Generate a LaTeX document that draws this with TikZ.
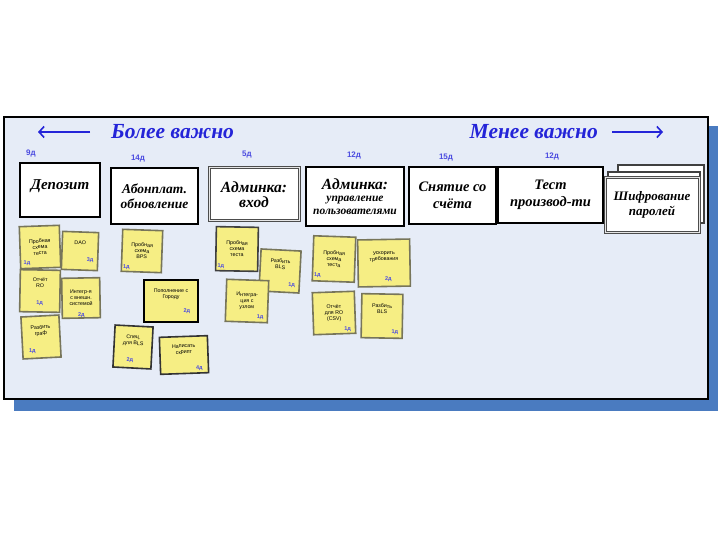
\documentclass[tikz,border=0pt]{standalone}
\usepackage{fontspec}
\setmainfont{Liberation Sans}
\newfontfamily\hand{Liberation Serif}
\usetikzlibrary{arrows.meta}
\definecolor{boardfill}{HTML}{E6ECF7}
\definecolor{shadowblue}{HTML}{4A7BC0}
\definecolor{inkblue}{HTML}{2424D8}
\definecolor{estblue}{HTML}{4B4BE0}
\definecolor{stickyfill}{HTML}{F6EE84}
\definecolor{stickyedge}{HTML}{77755A}
\tikzset{
  card/.style={draw=black, line width=1.6pt, fill=white, align=center, inner sep=1pt,
    font=\hand\bfseries\itshape\fontsize{13.5}{15}\selectfont},
  cardgray/.style={card, draw=black!70, double=white!80!gray, double distance=1pt, line width=1pt},
  sticky/.style={draw=stickyedge, line width=1.6pt, fill=stickyfill, align=center, inner sep=1pt,
    font=\fontsize{5.3}{6}\selectfont, text=black},
  stickyblack/.style={sticky, draw=black},
  est/.style={text=estblue, font=\bfseries\fontsize{5.5}{6}\selectfont, inner sep=0pt},
  days/.style={text=estblue, font=\bfseries\fontsize{8}{9}\selectfont, inner sep=0pt},
  head/.style={text=inkblue, font=\hand\bfseries\itshape\fontsize{21.5}{23}\selectfont, inner sep=0pt},
  headarrow/.style={draw=inkblue, line width=1.6pt, -{Straight Barb[length=5pt, width=11pt, line width=1.6pt]}}
}
\begin{document}
\begin{tikzpicture}[x=1pt, y=-1pt]
\useasboundingbox (0,0) rectangle (720,540);
% shadow and board
\fill[shadowblue] (14,126) rectangle (718,411);
\draw[fill=boardfill, line width=1.6pt] (4,117) rectangle (708,399);

% header
\coordinate (la1) at (90,132);
\coordinate (la2) at (38,132);
\draw[headarrow] (la1) -- (la2);
\node[head, anchor=west] (more) at (111,132) {Более важно};
\node[head, anchor=east] (less) at (598,132) {Менее важно};
\coordinate (ra1) at (612,132);
\coordinate (ra2) at (663,132);
\draw[headarrow] (ra1) -- (ra2);

% day labels
\node[days] (d1) at (31,154) {9д};
\node[days] (d2) at (138,159) {14д};
\node[days] (d3) at (247,155) {5д};
\node[days] (d4) at (354,156) {12д};
\node[days] (d5) at (446,158) {15д};
\node[days] (d6) at (552,157) {12д};

% cards
\node[card, minimum width=80pt, minimum height=54pt] (c1) at (60,190) {\raisebox{10pt}{\fontsize{15}{16}\selectfont Депозит}};
\node[card, minimum width=87pt, minimum height=56pt] (c2) at (154.5,196) {Абонплат.\\обновление};
\node[cardgray, minimum width=90pt, minimum height=53pt] (c3) at (254,194.5) {\fontsize{15.5}{18}\selectfont Админка:\\\fontsize{15.5}{18}\selectfont вход};
\node[card, minimum width=98pt, minimum height=59pt, font=\hand\bfseries\itshape\fontsize{11.5}{12.5}\selectfont] (c4) at (355,196.5) {{\fontsize{15.5}{16}\selectfont Админка:}\\управление\\пользователями};
\node[card, minimum width=87pt, minimum height=57pt, font=\hand\bfseries\itshape\fontsize{14.5}{17}\selectfont] (c5) at (452.5,195.5) {Снятие со\\счёта};
\node[card, minimum width=105pt, minimum height=56pt, font=\hand\bfseries\itshape\fontsize{14.5}{17}\selectfont] (c6) at (550.5,195) {Тест\\производ-ти};
\node[card, draw=black!75, line width=1.2pt, minimum width=86pt, minimum height=58pt] (c7c) at (661,194) {};
\node[card, draw=black!75, line width=1.2pt, minimum width=92pt, minimum height=56pt] (c7b) at (654,200) {};
\node[cardgray, minimum width=94pt, minimum height=55pt, font=\hand\bfseries\itshape\fontsize{13}{15}\selectfont] (c7) at (652,205) {Шифрование\\паролей};

% column 1 stickies
\node[sticky, minimum width=40pt, minimum height=42pt, rotate=2] (s1) at (40,247) {Пробная\\схема\\теста};
\node[est] (s1e) at ([shift={(7,-6)}]s1.south west) {1д};
\node[sticky, minimum width=36pt, minimum height=38pt, rotate=-2] (s2) at (80,251) {DAO\\[10pt]\mbox{}};
\node[est] (s2e) at ([shift={(-8,-11)}]s2.south east) {3д};
\node[sticky, minimum width=40pt, minimum height=42pt, rotate=-1] (s3) at (40,291) {Отчёт\\RO\\[10pt]\mbox{}};
\node[est] (s3e) at ([shift={(0,-10)}]s3.south) {1д};
\node[sticky, minimum width=38pt, minimum height=40pt, rotate=1] (s4) at (81,298) {Интегр-я\\с внешн.\\системой};
\node[est] (s4e) at ([shift={(0,-4)}]s4.south) {2д};
\node[sticky, minimum width=38pt, minimum height=42pt, rotate=3] (s5) at (41,337) {Разбить\\граф\\[8pt]\mbox{}};
\node[est] (s5e) at ([shift={(10,-9)}]s5.south west) {1д};

% column 2 stickies
\node[sticky, minimum width=40pt, minimum height=42pt, rotate=-2] (s6) at (142,251) {Пробная\\схема\\BPS};
\node[est] (s6e) at ([shift={(6,-5)}]s6.south west) {1д};
\node[stickyblack, minimum width=54pt, minimum height=42pt] (s7) at (171,301) {Пополнение с\\Городу\\[8pt]\mbox{}};
\node[est] (s7e) at ([shift={(-12,-12)}]s7.south east) {2д};
\node[sticky, draw=black!80, minimum width=38pt, minimum height=42pt, rotate=-3] (s8) at (133,347) {Спец.\\для BLS\\[8pt]\mbox{}};
\node[est] (s8e) at ([shift={(-2,-9)}]s8.south) {2д};
\node[sticky, draw=black!80, minimum width=48pt, minimum height=37pt, rotate=2] (s9) at (184,355) {Написать\\скрипт\\[6pt]\mbox{}};
\node[est] (s9e) at ([shift={(-10,-5)}]s9.south east) {4д};

% column 3 stickies
\node[sticky, draw=black!75, minimum width=42pt, minimum height=44pt, rotate=-1] (s10) at (237,249) {Пробная\\схема\\теста};
\node[est] (s10e) at ([shift={(6,-5)}]s10.south west) {1д};
\node[sticky, minimum width=40pt, minimum height=42pt, rotate=-3] (s11) at (280,271) {Разбить\\BLS\\[8pt]\mbox{}};
\node[est] (s11e) at ([shift={(-8,-9)}]s11.south east) {1д};
\node[sticky, minimum width=42pt, minimum height=42pt, rotate=-2] (s12) at (247,301) {Интегра-\\ция с\\узлом};
\node[est] (s12e) at ([shift={(-8,-6)}]s12.south east) {1д};

% column 4 stickies
\node[sticky, minimum width=42pt, minimum height=45pt, rotate=-2] (s13) at (334,259) {Пробная\\схема\\теста};
\node[est] (s13e) at ([shift={(6,-6)}]s13.south west) {1д};
\node[sticky, minimum width=52pt, minimum height=47pt, rotate=1] (s14) at (384,263) {Ускорить\\требования\\[8pt]\mbox{}};
\node[est] (s14e) at ([shift={(4,-8)}]s14.south) {2д};
\node[sticky, minimum width=42pt, minimum height=42pt, rotate=2] (s15) at (334,313) {Отчёт\\для RO\\(CSV)};
\node[est] (s15e) at ([shift={(-9,-5)}]s15.south east) {1д};
\node[sticky, minimum width=41pt, minimum height=44pt, rotate=-1] (s16) at (382,316) {Разбить\\BLS\\[8pt]\mbox{}};
\node[est] (s16e) at ([shift={(-8,-7)}]s16.south east) {1д};
\end{tikzpicture}
\end{document}
